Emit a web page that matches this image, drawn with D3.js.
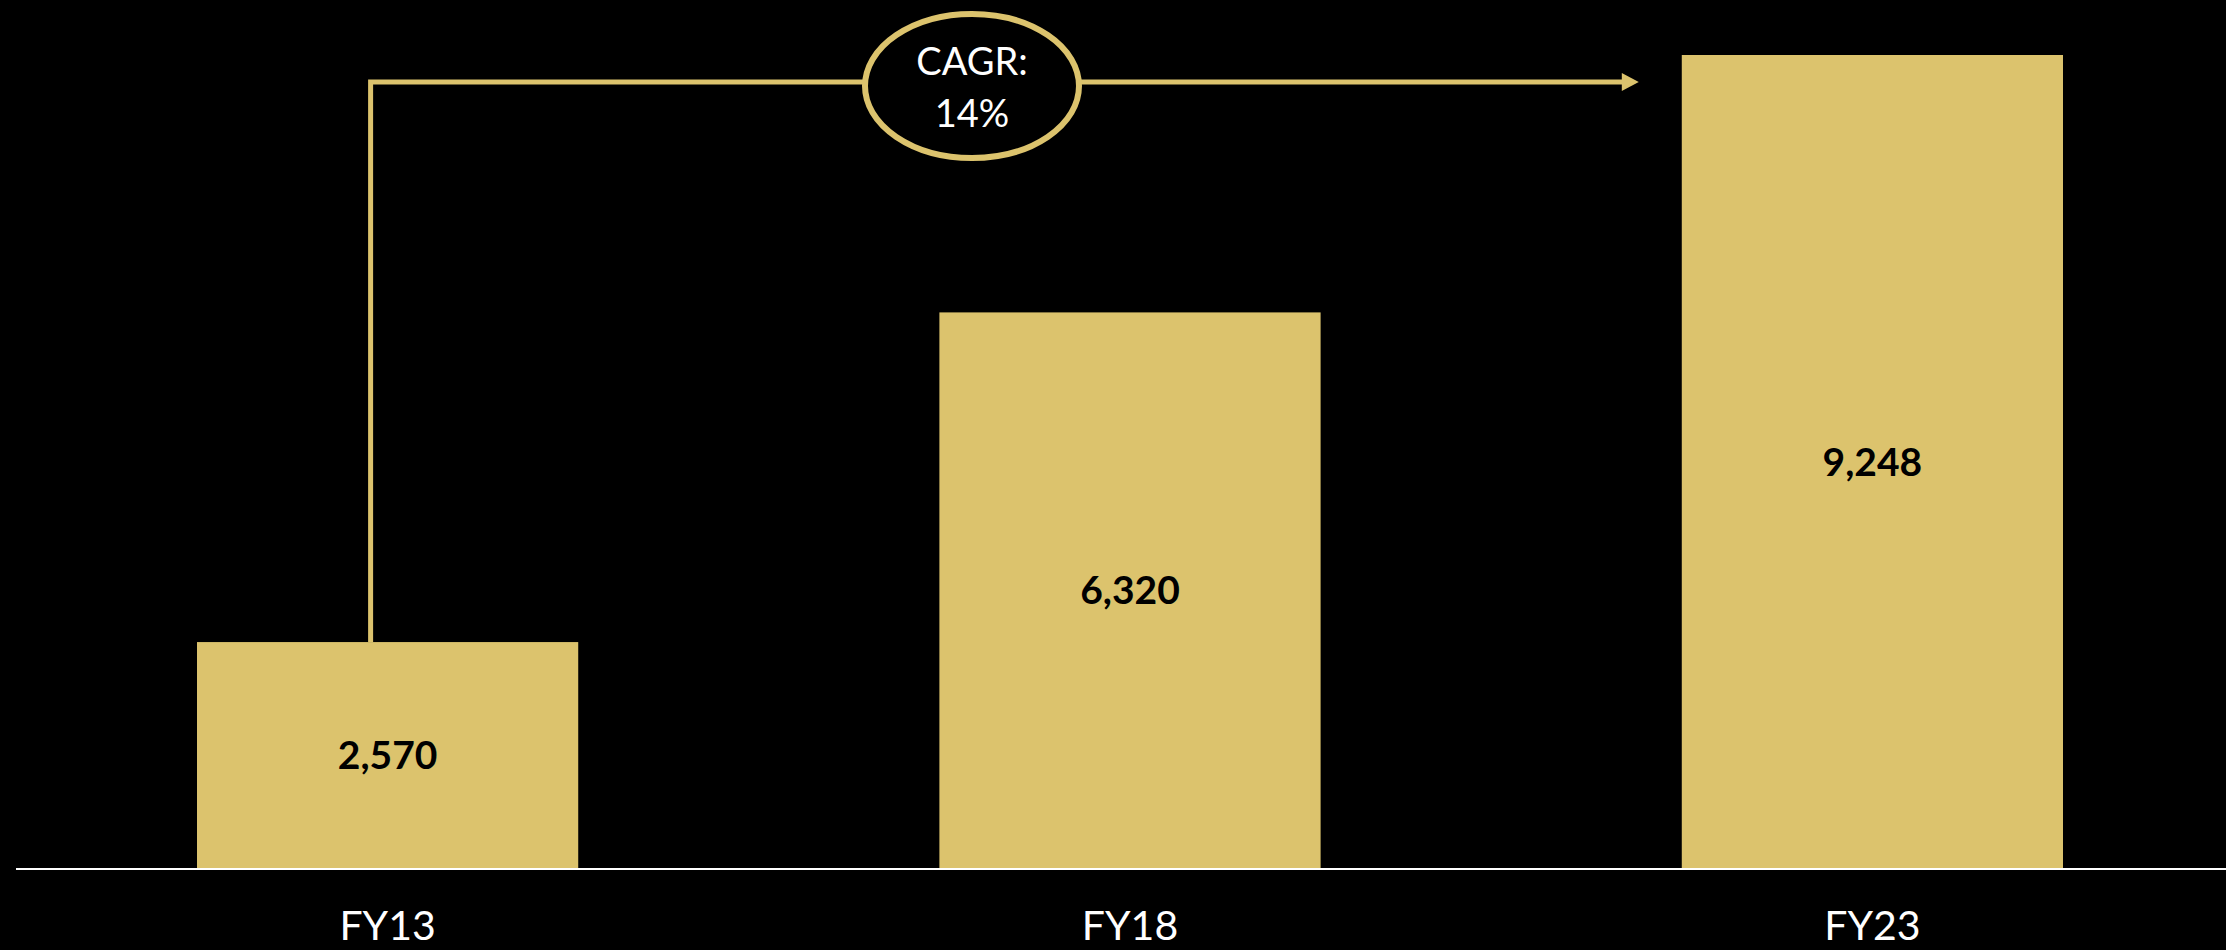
<!DOCTYPE html>
<html>
<head>
<meta charset="utf-8">
<script src="https://cdn.jsdelivr.net/npm/d3@7"></script>
<style>
  html, body { margin: 0; padding: 0; background: #000; }
  svg { display: block; }
</style>
</head>
<body>
<div id="chart"></div>
<script>
// chart data
var categories = ['FY13', 'FY18', 'FY23'];
var values = [2570, 6320, 9248];
var cagrLines = ['CAGR:', '14%'];

var width = 2226;
var height = 950;
var gold = '#dcc36d';

var svg = d3.select('#chart')
    .append('svg')
    .attr('width', width)
    .attr('height', height)
    .style('background', '#000');

// scales
var x = d3.scaleBand()
    .domain(categories)
    .range([197, 2063])
    .paddingInner(0.4865)
    .paddingOuter(0);

var y = d3.scaleLinear()
    .domain([0, d3.max(values)])
    .range([868, 55]);

var data = categories.map(function(c, i) {
    return {cat: c, value: values[i]};
});

// bars
svg.selectAll('.bar')
    .data(data)
    .enter().append('rect')
    .attr('class', 'bar')
    .attr('x', function(d) { return x(d.cat); })
    .attr('y', function(d) { return y(d.value); })
    .attr('width', x.bandwidth())
    .attr('height', function(d) { return y(0) - y(d.value); })
    .style('fill', gold);

// value labels, centred in the bar
svg.selectAll('.val')
    .data(data)
    .enter().append('text')
    .attr('class', 'val')
    .attr('x', function(d) { return x(d.cat) + x.bandwidth() / 2; })
    .attr('y', function(d) { return (y(d.value) + y(0)) / 2; })
    .attr('dy', '0.36em')
    .attr('text-anchor', 'middle')
    .style('font-family', 'Lato, "Open Sans", sans-serif')
    .style('font-weight', 'bold')
    .style('font-size', '39px')
    .style('fill', '#000')
    .text(function(d) { return d3.format(',')(d.value); });

// baseline axis (no ticks)
var xAxis = d3.axisBottom(x).tickSize(0).tickPadding(0);
var axisG = svg.append('g')
    .attr('transform', 'translate(0,' + (y(0) + 1) + ')')
    .call(xAxis);
axisG.select('.domain').remove();
axisG.append('line')
    .attr('x1', 16).attr('x2', width)
    .attr('y1', 0).attr('y2', 0)
    .style('stroke', '#fff')
    .style('stroke-width', 2);
axisG.selectAll('.tick text')
    .attr('y', 71)
    .attr('dy', 0)
    .style('font-family', 'Lato, "Open Sans", sans-serif')
    .style('font-size', '41px')
    .style('fill', '#fff');

// CAGR connector
var first = data[0], last = data[data.length - 1];
var startX = x(first.cat) + x.bandwidth() / 2 - 17;
var lineY = y(last.value) + 27;
var tipX = x(last.cat) - 43;

svg.append('path')
    .attr('d', 'M' + startX + ',' + y(first.value) + 'V' + lineY + 'H' + (tipX - 14))
    .style('fill', 'none')
    .style('stroke', gold)
    .style('stroke-width', 5)
    .style('stroke-linejoin', 'miter');

svg.append('path')
    .attr('d', 'M' + (tipX - 17) + ',' + (lineY - 9) + 'L' + tipX + ',' + lineY +
          'L' + (tipX - 17) + ',' + (lineY + 9) + 'Z')
    .style('fill', gold);

// bubble
var cx = 972, cy = 86;
svg.append('ellipse')
    .attr('cx', cx).attr('cy', cy)
    .attr('rx', 107).attr('ry', 72)
    .style('fill', '#000')
    .style('stroke', gold)
    .style('stroke-width', 6);

svg.append('text')
    .attr('x', cx)
    .attr('y', cy)
    .attr('text-anchor', 'middle')
    .style('font-family', 'Lato, "Open Sans", sans-serif')
    .style('font-size', '38px')
    .style('fill', '#fff')
    .selectAll('tspan')
    .data(cagrLines)
    .enter().append('tspan')
    .attr('x', cx)
    .attr('y', function(d, i) { return cy - 11 + i * 52; })
    .text(function(d) { return d; });
</script>
</body>
</html>
